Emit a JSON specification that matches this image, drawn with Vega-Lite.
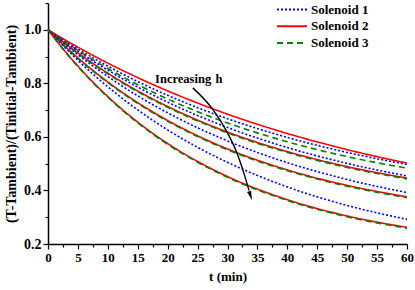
{
  "$schema": "https://vega.github.io/schema/vega-lite/v6.json",
  "autosize": {"type": "none"},
  "width": 359,
  "height": 241,
  "padding": {"left": 48, "top": 3, "right": 8, "bottom": 46},
  "background": "white",
  "config": {
    "view": {"stroke": null},
    "font": "Liberation Serif",
    "axis": {
      "labelFont": "Liberation Serif", "labelFontSize": 13, "labelFontWeight": "bold", "labelColor": "black",
      "titleFont": "Liberation Serif", "titleFontSize": 13, "titleFontWeight": "bold", "titleColor": "black",
      "domainColor": "black", "domainWidth": 1.5, "tickColor": "black", "tickWidth": 1.2, "grid": false,
      "labelOverlap": false, "labelFlush": false
    }
  },
  "datasets": {
    "curves": [
      {"c":"A","s":"Solenoid 1","t":0,"y":1},{"c":"A","s":"Solenoid 1","t":2.5,"y":0.9632},{"c":"A","s":"Solenoid 1","t":5,"y":0.9283},{"c":"A","s":"Solenoid 1","t":10,"y":0.8642},{"c":"A","s":"Solenoid 1","t":15,"y":0.8067},{"c":"A","s":"Solenoid 1","t":20,"y":0.7552},{"c":"A","s":"Solenoid 1","t":25,"y":0.7092},{"c":"A","s":"Solenoid 1","t":30,"y":0.668},{"c":"A","s":"Solenoid 1","t":40,"y":0.598},{"c":"A","s":"Solenoid 1","t":50,"y":0.5419},{"c":"A","s":"Solenoid 1","t":60,"y":0.497},
      {"c":"A","s":"Solenoid 2","t":0,"y":1},{"c":"A","s":"Solenoid 2","t":2.5,"y":0.9668},{"c":"A","s":"Solenoid 2","t":5,"y":0.935},{"c":"A","s":"Solenoid 2","t":10,"y":0.8755},{"c":"A","s":"Solenoid 2","t":15,"y":0.8213},{"c":"A","s":"Solenoid 2","t":20,"y":0.7717},{"c":"A","s":"Solenoid 2","t":25,"y":0.7264},{"c":"A","s":"Solenoid 2","t":30,"y":0.685},{"c":"A","s":"Solenoid 2","t":40,"y":0.6127},{"c":"A","s":"Solenoid 2","t":50,"y":0.5524},{"c":"A","s":"Solenoid 2","t":60,"y":0.502},
      {"c":"A","s":"Solenoid 3","t":0,"y":1},{"c":"A","s":"Solenoid 3","t":2.5,"y":0.9605},{"c":"A","s":"Solenoid 3","t":5,"y":0.9233},{"c":"A","s":"Solenoid 3","t":10,"y":0.8553},{"c":"A","s":"Solenoid 3","t":15,"y":0.7949},{"c":"A","s":"Solenoid 3","t":20,"y":0.7415},{"c":"A","s":"Solenoid 3","t":25,"y":0.694},{"c":"A","s":"Solenoid 3","t":30,"y":0.652},{"c":"A","s":"Solenoid 3","t":40,"y":0.5817},{"c":"A","s":"Solenoid 3","t":50,"y":0.5264},{"c":"A","s":"Solenoid 3","t":60,"y":0.483},
      {"c":"B","s":"Solenoid 1","t":0,"y":1},{"c":"B","s":"Solenoid 1","t":2.5,"y":0.9589},{"c":"B","s":"Solenoid 1","t":5,"y":0.9201},{"c":"B","s":"Solenoid 1","t":10,"y":0.8491},{"c":"B","s":"Solenoid 1","t":15,"y":0.7858},{"c":"B","s":"Solenoid 1","t":20,"y":0.7296},{"c":"B","s":"Solenoid 1","t":25,"y":0.6796},{"c":"B","s":"Solenoid 1","t":30,"y":0.635},{"c":"B","s":"Solenoid 1","t":40,"y":0.5602},{"c":"B","s":"Solenoid 1","t":50,"y":0.5009},{"c":"B","s":"Solenoid 1","t":60,"y":0.454},
      {"c":"B","s":"Solenoid 2","t":0,"y":1},{"c":"B","s":"Solenoid 2","t":2.5,"y":0.9553},{"c":"B","s":"Solenoid 2","t":5,"y":0.9135},{"c":"B","s":"Solenoid 2","t":10,"y":0.8377},{"c":"B","s":"Solenoid 2","t":15,"y":0.7714},{"c":"B","s":"Solenoid 2","t":20,"y":0.7133},{"c":"B","s":"Solenoid 2","t":25,"y":0.6625},{"c":"B","s":"Solenoid 2","t":30,"y":0.618},{"c":"B","s":"Solenoid 2","t":40,"y":0.5449},{"c":"B","s":"Solenoid 2","t":50,"y":0.4889},{"c":"B","s":"Solenoid 2","t":60,"y":0.446},
      {"c":"B","s":"Solenoid 3","t":0,"y":1},{"c":"B","s":"Solenoid 3","t":2.5,"y":0.9543},{"c":"B","s":"Solenoid 3","t":5,"y":0.9115},{"c":"B","s":"Solenoid 3","t":10,"y":0.8352},{"c":"B","s":"Solenoid 3","t":15,"y":0.7686},{"c":"B","s":"Solenoid 3","t":20,"y":0.7104},{"c":"B","s":"Solenoid 3","t":25,"y":0.6596},{"c":"B","s":"Solenoid 3","t":30,"y":0.615},{"c":"B","s":"Solenoid 3","t":40,"y":0.5419},{"c":"B","s":"Solenoid 3","t":50,"y":0.4859},{"c":"B","s":"Solenoid 3","t":60,"y":0.443},
      {"c":"C","s":"Solenoid 1","t":0,"y":1},{"c":"C","s":"Solenoid 1","t":2.5,"y":0.9521},{"c":"C","s":"Solenoid 1","t":5,"y":0.9071},{"c":"C","s":"Solenoid 1","t":10,"y":0.8253},{"c":"C","s":"Solenoid 1","t":15,"y":0.7533},{"c":"C","s":"Solenoid 1","t":20,"y":0.6899},{"c":"C","s":"Solenoid 1","t":25,"y":0.6341},{"c":"C","s":"Solenoid 1","t":30,"y":0.585},{"c":"C","s":"Solenoid 1","t":40,"y":0.5037},{"c":"C","s":"Solenoid 1","t":50,"y":0.4407},{"c":"C","s":"Solenoid 1","t":60,"y":0.392},
      {"c":"C","s":"Solenoid 2","t":0,"y":1},{"c":"C","s":"Solenoid 2","t":2.5,"y":0.9456},{"c":"C","s":"Solenoid 2","t":5,"y":0.8952},{"c":"C","s":"Solenoid 2","t":10,"y":0.8051},{"c":"C","s":"Solenoid 2","t":15,"y":0.7277},{"c":"C","s":"Solenoid 2","t":20,"y":0.6613},{"c":"C","s":"Solenoid 2","t":25,"y":0.6041},{"c":"C","s":"Solenoid 2","t":30,"y":0.555},{"c":"C","s":"Solenoid 2","t":40,"y":0.4766},{"c":"C","s":"Solenoid 2","t":50,"y":0.4188},{"c":"C","s":"Solenoid 2","t":60,"y":0.376},
      {"c":"C","s":"Solenoid 3","t":0,"y":1},{"c":"C","s":"Solenoid 3","t":2.5,"y":0.9446},{"c":"C","s":"Solenoid 3","t":5,"y":0.8932},{"c":"C","s":"Solenoid 3","t":10,"y":0.8026},{"c":"C","s":"Solenoid 3","t":15,"y":0.7249},{"c":"C","s":"Solenoid 3","t":20,"y":0.6584},{"c":"C","s":"Solenoid 3","t":25,"y":0.6011},{"c":"C","s":"Solenoid 3","t":30,"y":0.552},{"c":"C","s":"Solenoid 3","t":40,"y":0.4736},{"c":"C","s":"Solenoid 3","t":50,"y":0.4158},{"c":"C","s":"Solenoid 3","t":60,"y":0.373},
      {"c":"D","s":"Solenoid 1","t":0,"y":1},{"c":"D","s":"Solenoid 1","t":2.5,"y":0.941},{"c":"D","s":"Solenoid 1","t":5,"y":0.886},{"c":"D","s":"Solenoid 1","t":10,"y":0.7869},{"c":"D","s":"Solenoid 1","t":15,"y":0.7008},{"c":"D","s":"Solenoid 1","t":20,"y":0.6261},{"c":"D","s":"Solenoid 1","t":25,"y":0.5611},{"c":"D","s":"Solenoid 1","t":30,"y":0.505},{"c":"D","s":"Solenoid 1","t":40,"y":0.4131},{"c":"D","s":"Solenoid 1","t":50,"y":0.3439},{"c":"D","s":"Solenoid 1","t":60,"y":0.292},
      {"c":"D","s":"Solenoid 2","t":0,"y":1},{"c":"D","s":"Solenoid 2","t":2.5,"y":0.9291},{"c":"D","s":"Solenoid 2","t":5,"y":0.8642},{"c":"D","s":"Solenoid 2","t":10,"y":0.7505},{"c":"D","s":"Solenoid 2","t":15,"y":0.6551},{"c":"D","s":"Solenoid 2","t":20,"y":0.5751},{"c":"D","s":"Solenoid 2","t":25,"y":0.5082},{"c":"D","s":"Solenoid 2","t":30,"y":0.452},{"c":"D","s":"Solenoid 2","t":40,"y":0.3655},{"c":"D","s":"Solenoid 2","t":50,"y":0.3046},{"c":"D","s":"Solenoid 2","t":60,"y":0.262},
      {"c":"D","s":"Solenoid 3","t":0,"y":1},{"c":"D","s":"Solenoid 3","t":2.5,"y":0.9281},{"c":"D","s":"Solenoid 3","t":5,"y":0.8622},{"c":"D","s":"Solenoid 3","t":10,"y":0.748},{"c":"D","s":"Solenoid 3","t":15,"y":0.6523},{"c":"D","s":"Solenoid 3","t":20,"y":0.5722},{"c":"D","s":"Solenoid 3","t":25,"y":0.5052},{"c":"D","s":"Solenoid 3","t":30,"y":0.449},{"c":"D","s":"Solenoid 3","t":40,"y":0.3625},{"c":"D","s":"Solenoid 3","t":50,"y":0.3016},{"c":"D","s":"Solenoid 3","t":60,"y":0.259}
    ],
    "arrow": [
      {"i":0,"t":24.2,"y":0.783},{"i":1,"t":27.6,"y":0.701},{"i":2,"t":30.0,"y":0.615},{"i":3,"t":31.4,"y":0.55},{"i":4,"t":32.8,"y":0.46},{"i":5,"t":33.6,"y":0.40}
    ],
    "head": [{"t":33.85,"y":0.38}],
    "labels": [
      {"t":17.9,"y":0.817,"txt":"Increasing","st":"normal"},
      {"t":28.0,"y":0.817,"txt":"h","st":"italic"}
    ]
  },
  "encoding": {
    "x": {"field": "t", "type": "quantitative",
      "scale": {"domain": [0, 60], "nice": false, "zero": false},
      "axis": {"title": "t (min)", "titlePadding": 6, "labelOverlap": false, "labelFlush": false,
        "values": [0,2.5,5,7.5,10,12.5,15,17.5,20,22.5,25,27.5,30,32.5,35,37.5,40,42.5,45,47.5,50,52.5,55,57.5,60],
        "labelExpr": "datum.value % 5 === 0 ? format(datum.value, 'd') : ''",
        "tickSize": {"condition": {"test": "datum.value % 5 === 0", "value": 5}, "value": 3},
        "labelPadding": 2}},
    "y": {"field": "y", "type": "quantitative",
      "scale": {"domain": [0.2, 1.1], "nice": false, "zero": false},
      "axis": {"title": "(T-Tambient)/(Tinitial-Tambient)", "titlePadding": 5, "titleFontSize": 14,
        "labelFontSize": 14, "labelOverlap": false, "labelFlush": false,
        "values": [0.2,0.3,0.4,0.5,0.6,0.7,0.8,0.9,1.0,1.1],
        "labelExpr": "(round(datum.value*10) % 2 === 0 && datum.value < 1.05) ? format(datum.value, '.1f') : ''",
        "tickSize": {"condition": {"test": "round(datum.value*10) % 2 === 0 && datum.value < 1.05", "value": 5}, "value": 3},
        "labelPadding": 2}}
  },
  "layer": [
    {
      "data": {"name": "curves"},
      "mark": {"type": "line", "interpolate": "monotone", "strokeWidth": 1.6},
      "encoding": {
        "color": {"field": "s", "type": "nominal",
          "scale": {"domain": ["Solenoid 1","Solenoid 2","Solenoid 3"], "range": ["#0000FF","#FF0000","#008000"]},
          "legend": {"title": null, "orient": "none", "legendX": 228, "legendY": -1,
            "symbolType": "stroke", "symbolSize": 900, "symbolStrokeWidth": 2, "clipHeight": 15,
            "labelFont": "Liberation Serif", "labelFontSize": 13, "labelFontWeight": "bold", "labelColor": "black",
            "rowPadding": 1.7, "labelOffset": 3}},
        "strokeDash": {"field": "s", "type": "nominal",
          "scale": {"domain": ["Solenoid 1","Solenoid 2","Solenoid 3"], "range": [[2,2],[1,0],[6,4]]},
          "legend": {"title": null, "orient": "none", "legendX": 228, "legendY": -1,
            "symbolType": "stroke", "symbolSize": 900, "symbolStrokeWidth": 2, "clipHeight": 15,
            "labelFont": "Liberation Serif", "labelFontSize": 13, "labelFontWeight": "bold", "labelColor": "black",
            "rowPadding": 1.7, "labelOffset": 3}},
        "detail": {"field": "c"}
      }
    },
    {
      "data": {"name": "arrow"},
      "mark": {"type": "line", "interpolate": "monotone", "color": "black", "strokeWidth": 1.4},
      "encoding": {
        "order": {"field": "i"}
      }
    },
    {
      "data": {"name": "head"},
      "mark": {"type": "point", "shape": "M-0.45,-1L0,1L0.45,-1Z", "filled": true, "color": "black", "opacity": 1, "size": 90, "angle": 342},
      "encoding": {}
    },
    {
      "data": {"name": "labels"},
      "mark": {"type": "text", "align": "left", "baseline": "middle", "font": "Liberation Serif", "fontSize": 12.5, "fontWeight": "bold", "color": "black"},
      "encoding": {
        "text": {"field": "txt"},
        "fontStyle": {"field": "st", "type": "nominal", "scale": null}
      }
    }
  ]
}
